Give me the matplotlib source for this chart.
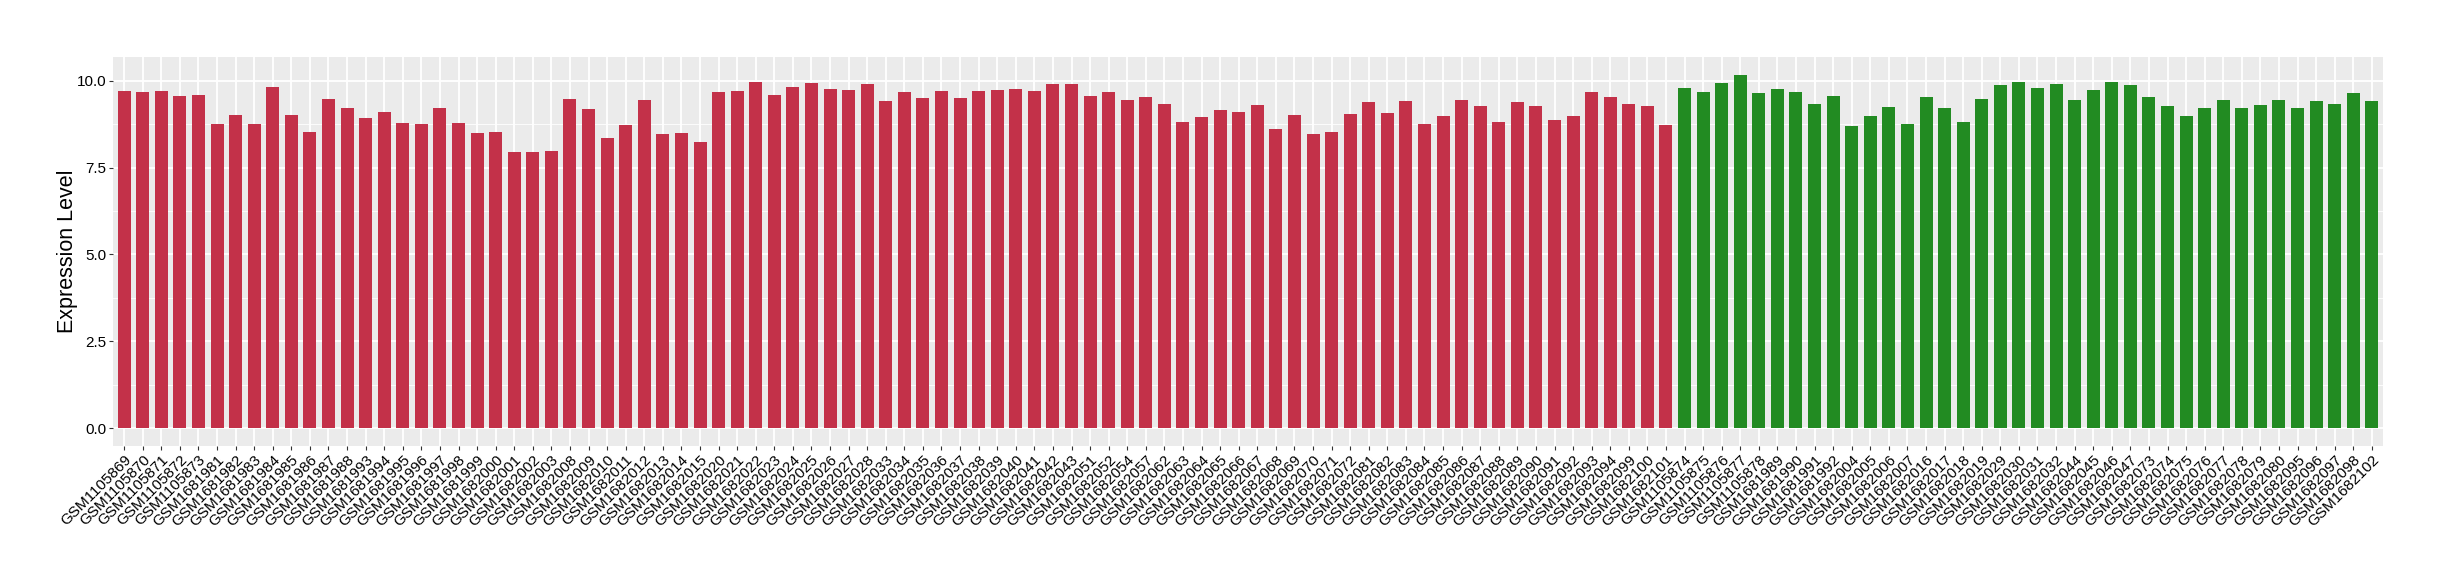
import matplotlib
matplotlib.use('Agg')
import matplotlib.pyplot as plt
from matplotlib.ticker import MultipleLocator, FormatStrFormatter

plt.rcParams['font.family'] = ['Liberation Sans', 'DejaVu Sans']

# 샘플 ID (그룹 순서대로)
group_a = ['GSM1105869', 'GSM1105870', 'GSM1105871', 'GSM1105872', 'GSM1105873',
           'GSM1681981', 'GSM1681982', 'GSM1681983', 'GSM1681984', 'GSM1681985',
           'GSM1681986', 'GSM1681987', 'GSM1681988', 'GSM1681993', 'GSM1681994',
           'GSM1681995', 'GSM1681996', 'GSM1681997', 'GSM1681998', 'GSM1681999',
           'GSM1682000', 'GSM1682001', 'GSM1682002', 'GSM1682003', 'GSM1682008',
           'GSM1682009', 'GSM1682010', 'GSM1682011', 'GSM1682012', 'GSM1682013',
           'GSM1682014', 'GSM1682015', 'GSM1682020', 'GSM1682021', 'GSM1682022',
           'GSM1682023', 'GSM1682024', 'GSM1682025', 'GSM1682026', 'GSM1682027',
           'GSM1682028', 'GSM1682033', 'GSM1682034', 'GSM1682035', 'GSM1682036',
           'GSM1682037', 'GSM1682038', 'GSM1682039', 'GSM1682040', 'GSM1682041',
           'GSM1682042', 'GSM1682043', 'GSM1682051', 'GSM1682052', 'GSM1682054',
           'GSM1682057', 'GSM1682062', 'GSM1682063', 'GSM1682064', 'GSM1682065',
           'GSM1682066', 'GSM1682067', 'GSM1682068', 'GSM1682069', 'GSM1682070',
           'GSM1682071', 'GSM1682072', 'GSM1682081', 'GSM1682082', 'GSM1682083',
           'GSM1682084', 'GSM1682085', 'GSM1682086', 'GSM1682087', 'GSM1682088',
           'GSM1682089', 'GSM1682090', 'GSM1682091', 'GSM1682092', 'GSM1682093',
           'GSM1682094', 'GSM1682099', 'GSM1682100', 'GSM1682101']
values_a = [9.71, 9.66, 9.71, 9.57, 9.60, 8.76, 9.02, 8.74, 9.83, 9.02,
            8.53, 9.48, 9.20, 8.91, 9.11, 8.79, 8.76, 9.20, 8.79, 8.48,
            8.51, 7.95, 7.95, 7.98, 9.48, 9.17, 8.36, 8.71, 9.43, 8.45,
            8.48, 8.22, 9.68, 9.71, 9.97, 9.60, 9.83, 9.94, 9.77, 9.74,
            9.89, 9.40, 9.66, 9.51, 9.71, 9.51, 9.71, 9.74, 9.77, 9.71,
            9.89, 9.91, 9.57, 9.66, 9.45, 9.54, 9.34, 8.82, 8.94, 9.14,
            9.11, 9.31, 8.62, 9.02, 8.45, 8.51, 9.05, 9.37, 9.08, 9.40,
            8.74, 8.99, 9.43, 9.28, 8.82, 9.37, 9.28, 8.88, 8.99, 9.66,
            9.54, 9.34, 9.28, 8.71]

group_b = ['GSM1105874', 'GSM1105875', 'GSM1105876', 'GSM1105877', 'GSM1105878',
           'GSM1681989', 'GSM1681990', 'GSM1681991', 'GSM1681992', 'GSM1682004',
           'GSM1682005', 'GSM1682006', 'GSM1682007', 'GSM1682016', 'GSM1682017',
           'GSM1682018', 'GSM1682019', 'GSM1682029', 'GSM1682030', 'GSM1682031',
           'GSM1682032', 'GSM1682044', 'GSM1682045', 'GSM1682046', 'GSM1682047',
           'GSM1682073', 'GSM1682074', 'GSM1682075', 'GSM1682076', 'GSM1682077',
           'GSM1682078', 'GSM1682079', 'GSM1682080', 'GSM1682095', 'GSM1682096',
           'GSM1682097', 'GSM1682098', 'GSM1682102']
values_b = [9.80, 9.66, 9.94, 10.17, 9.63, 9.77, 9.66, 9.34, 9.57, 8.68,
            8.97, 9.25, 8.76, 9.54, 9.22, 8.82, 9.48, 9.86, 9.97, 9.80,
            9.91, 9.45, 9.74, 9.97, 9.86, 9.54, 9.28, 8.97, 9.20, 9.45,
            9.22, 9.31, 9.45, 9.22, 9.40, 9.34, 9.63, 9.40]

color_a = '#C33149'
color_b = '#228B22'

labels = group_a + group_b
values = values_a + values_b
colors = [color_a] * len(group_a) + [color_b] * len(group_b)
x = list(range(len(labels)))

fig = plt.figure(figsize=(24.4, 5.8), dpi=100)
ax = fig.add_axes([113 / 2440, 1 - 446 / 580, 2270 / 2440, 389 / 580])

ax.set_facecolor('#EBEBEB')
ax.bar(x, values, width=0.7, color=colors, zorder=3)

# ggplot 스타일 격자
ax.yaxis.set_major_locator(MultipleLocator(2.5))
ax.yaxis.set_minor_locator(MultipleLocator(1.25))
ax.yaxis.set_major_formatter(FormatStrFormatter('%.1f'))
ax.grid(True, which='major', color='white', linewidth=1.3, zorder=1)
ax.grid(True, which='minor', axis='y', color='white', linewidth=0.6, zorder=1)
ax.tick_params(axis='y', which='minor', length=0)

ymax = max(values)
ax.set_ylim(-0.05 * ymax, 1.05 * ymax)
ax.set_xlim(-0.6, len(labels) - 1 + 0.6)

ax.set_xticks(x)
ax.set_xticklabels(labels, rotation=45, ha='right', va='top', rotation_mode='anchor')
ax.tick_params(axis='both', which='major', length=3, width=0.8, color='#333333',
               labelsize=11, labelcolor='black', pad=2)

for s in ax.spines.values():
    s.set_visible(False)

ax.set_ylabel('Expression Level', fontsize=15.5)
ax.yaxis.set_label_coords(-0.0155, 0.5)

fig.savefig('out.png', dpi=100)
